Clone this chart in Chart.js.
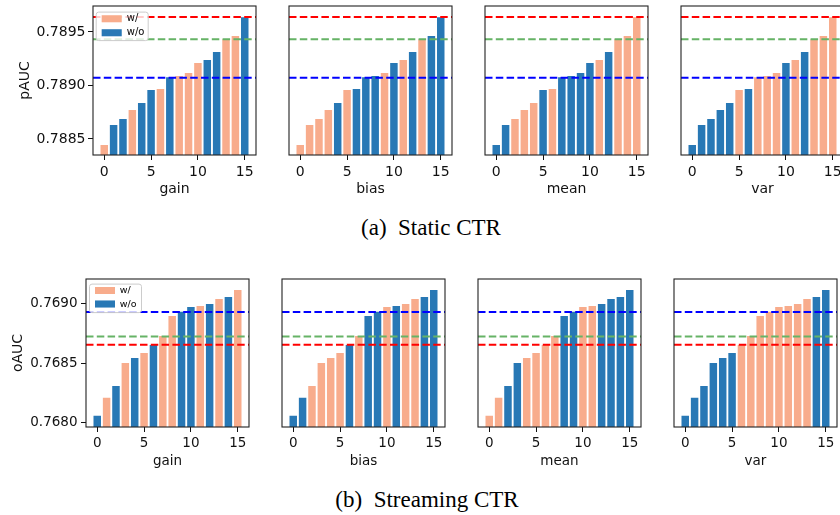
<!DOCTYPE html>
<html>
<head>
<meta charset="utf-8">
<script src="https://cdn.jsdelivr.net/npm/chart.js@4.4.1/dist/chart.umd.min.js"></script>
<style>
  body { margin: 0; background: #fff; width: 840px; height: 515px; overflow: hidden; position: relative; }
  canvas { position: absolute; }
  .cap { position: absolute; width: 300px; text-align: center; white-space: pre;
         font-family: "Liberation Serif", serif; font-size: 23px; line-height: 23px; color: #000; }
</style>
</head>
<body>
<div class="cap" style="left:281px; top:216px">(a)  Static CTR</div>
<div class="cap" style="left:277px; top:488px">(b)  Streaming CTR</div>
<script>
// DATA
const steps = [0, 1, 2, 3, 4, 5, 6, 7, 8, 9, 10, 11, 12, 13, 14, 15];
const panels = ["gain", "bias", "mean", "var"];
const xTicks = [0, 5, 10, 15];

const staticAUC = [0.788444, 0.788631, 0.788687, 0.788771, 0.788836, 0.788958, 0.788967, 0.789077,
                   0.789089, 0.789117, 0.789210, 0.789238, 0.789313, 0.789432, 0.789463, 0.789637];
const staticRefs = [0.789640, 0.789432, 0.789073]; // red, green, blue
const staticTicks = [0.7885, 0.7890, 0.7895];
// 1 = w/, 0 = w/o
const staticGain = [1, 0, 0, 1, 0, 0, 1, 0, 1, 1, 1, 0, 0, 1, 1, 0];
const staticBias = [1, 1, 1, 1, 0, 1, 0, 0, 0, 1, 0, 1, 0, 1, 0, 0];
const staticMean = [0, 0, 1, 1, 1, 0, 1, 0, 0, 0, 0, 1, 0, 1, 1, 1];
const staticVar  = [0, 0, 0, 0, 0, 1, 0, 1, 1, 1, 0, 1, 0, 1, 1, 1];

const streamingAUC = [0.768059, 0.768209, 0.768307, 0.768500, 0.768542, 0.768584, 0.768651, 0.768726,
                      0.768894, 0.768930, 0.768969, 0.768978, 0.768994, 0.769036, 0.769053, 0.769112];
const streamingRefs = [0.768654, 0.768723, 0.768927];
const streamingTicks = [0.7680, 0.7685, 0.7690];
const streamingGain = [0, 1, 0, 1, 0, 1, 0, 1, 1, 0, 0, 1, 0, 1, 0, 1];
const streamingBias = [0, 0, 1, 1, 1, 1, 0, 1, 0, 0, 1, 0, 1, 1, 0, 0];
const streamingMean = [1, 1, 0, 0, 1, 1, 1, 1, 0, 0, 1, 1, 0, 0, 0, 0];
const streamingVar  = [0, 0, 0, 0, 0, 0, 1, 1, 1, 1, 1, 1, 1, 1, 0, 0];

// LAYOUT
const xMin = -1.2, xMax = 16.2;
const WITH = "#f8ac8c", WITHOUT = "#2878b5";
const refColors = ["#ff0000", "#66b366", "#0000ff"];
const FONT = "DejaVu Sans";
const INK = "#111";

const rows = [
  { top: 6, h: 149, w: 163, lefts: [93, 289, 485, 681], yMin: 0.788350, yMax: 0.789743,
    values: staticAUC, refs: staticRefs, ticks: staticTicks, yTitle: "pAUC",
    flags: [staticGain, staticBias, staticMean, staticVar],
    tickFont: 14, tickPad: 2.5, titlePad: 16.8, legendFont: 10, legendShift: [4.7, 3.8] },
  { top: 279, h: 148, w: 163, lefts: [86, 282, 478, 674], yMin: 0.767964, yMax: 0.769204,
    values: streamingAUC, refs: streamingRefs, ticks: streamingTicks, yTitle: "oAUC",
    flags: [streamingGain, streamingBias, streamingMean, streamingVar],
    tickFont: 13.5, tickPad: 3.5, titlePad: 10.3, legendFont: 9.5, legendShift: [5, 2.8] }
];

// spines + legend frame drawn over the data
const framePlugin = {
  id: "frame",
  afterLayout(chart) {
    const lg = chart.legend;
    if (!lg || !lg.options.display) return;
    const [dx, dy] = chart.options.legendShift;
    lg.left = chart.chartArea.left + dx;
    lg.top = chart.chartArea.top + dy;
  },
  afterDatasetsDraw(chart) {
    const { ctx, chartArea: a } = chart;
    ctx.save();
    ctx.strokeStyle = "#222";
    ctx.lineWidth = 1.1;
    ctx.strokeRect(a.left, a.top, a.right - a.left, a.bottom - a.top);
    const lg = chart.legend;
    if (lg && lg.options.display) {
      const pad = lg.options.labels.padding;
      const bx = lg.left + pad, by = lg.top + pad + 1.5;
      ctx.beginPath();
      ctx.roundRect(bx - 5.5, by - 3.2, 52, 28.5, 2.5);
      ctx.fillStyle = "rgba(255,255,255,0.8)";
      ctx.fill();
      ctx.strokeStyle = "#cccccc";
      ctx.lineWidth = 1;
      ctx.stroke();
      ctx.restore();
      lg.draw();
      return;
    }
    ctx.restore();
  }
};

function addPanel(row, col) {
  const first = col === 0;
  const flags = row.flags[col];
  const yW = first ? row.lefts[0] : 3;
  const canvas = document.createElement("canvas");
  canvas.width = yW + row.w + 3;
  canvas.height = 3 + row.h + 45;
  canvas.style.left = (first ? 0 : row.lefts[col] - 3) + "px";
  canvas.style.top = (row.top - 3) + "px";
  document.body.appendChild(canvas);

  const pts = want => steps.filter((s, i) => flags[i] === want).map(s => ({ x: s, y: row.values[s] }));
  const bar = (label, want, color) => ({
    label, data: pts(want), backgroundColor: color, borderColor: color, borderWidth: 0,
    grouped: false, categoryPercentage: 1, barPercentage: 0.8, order: 1
  });
  const refLine = (v, k) => ({
    type: "line", label: "ref" + k, data: [{ x: xMin, y: v }, { x: xMax, y: v }],
    borderColor: refColors[k], borderWidth: 2, borderDash: [7.5, 3.3], pointRadius: 0, order: 0
  });

  const tickFont = { family: FONT, size: row.tickFont };
  new Chart(canvas, {
    type: "bar",
    data: { datasets: [bar("w/", 1, WITH), bar("w/o", 0, WITHOUT), ...row.refs.map(refLine)] },
    options: {
      responsive: false,
      animation: false,
      devicePixelRatio: 1,
      legendShift: row.legendShift,
      layout: { padding: { top: 3, right: 3, left: 0, bottom: 0 } },
      plugins: {
        tooltip: { enabled: false },
        legend: {
          display: first, position: "chartArea", align: "start",
          labels: {
            boxWidth: 20, boxHeight: 7, padding: 4, color: INK,
            font: { family: FONT, size: row.legendFont },
            filter: it => it.datasetIndex < 2
          }
        }
      },
      scales: {
        x: {
          type: "linear", min: xMin, max: xMax, offset: false,
          grid: { display: true, offset: false, drawOnChartArea: false, drawTicks: true,
                  tickLength: 5, tickColor: INK, tickWidth: 1 },
          border: { display: false },
          ticks: { color: INK, padding: 3.5, font: tickFont, maxRotation: 0 },
          title: { display: true, text: panels[col], color: INK, font: tickFont,
                   padding: { top: 0, bottom: 2.2 } },
          afterBuildTicks: s => { s.ticks = xTicks.map(v => ({ value: v })); },
          afterFit: s => { s.height = 45; s.paddingLeft = 0; s.paddingRight = 0; }
        },
        y: {
          min: row.yMin, max: row.yMax, beginAtZero: false,
          grid: { display: first, drawOnChartArea: false, drawTicks: true,
                  tickLength: 5, tickColor: INK, tickWidth: 1 },
          border: { display: false },
          ticks: { display: first, color: INK, padding: row.tickPad, font: tickFont },
          title: { display: first, text: row.yTitle, color: INK,
                   font: { family: FONT, size: 14 }, padding: { top: row.titlePad, bottom: 0 } },
          afterBuildTicks: s => { s.ticks = row.ticks.map(v => ({ value: v })); },
          afterFit: s => { s.width = yW; s.paddingTop = 0; s.paddingBottom = 0; }
        }
      }
    },
    plugins: [framePlugin]
  });
}

rows.forEach(row => panels.forEach((p, col) => addPanel(row, col)));
</script>
</body>
</html>
